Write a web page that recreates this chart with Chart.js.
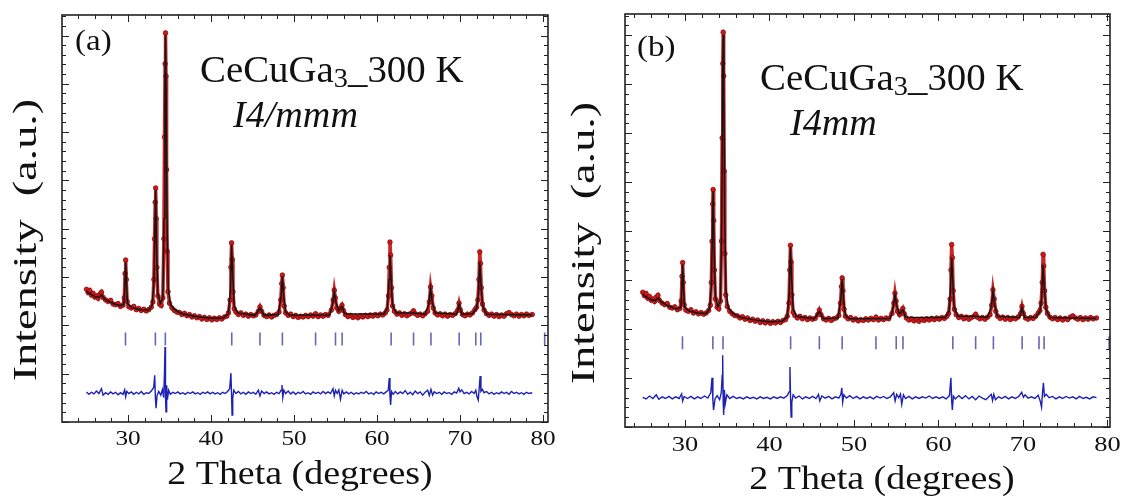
<!DOCTYPE html>
<html lang="en">

<head>
    <meta charset="UTF-8">
    <title>CeCuGa3 Rietveld refinement</title>
    <script src="https://cdn.jsdelivr.net/npm/chart.js"></script>
    <style>
        body { margin: 0; background: #fff; }
        #wrap { position: relative; width: 1123px; height: 502px; }
        canvas { position: absolute; top: 0; }
    </style>
</head>

<body>
    <div id="wrap">
        <canvas id="chartA" width="560" height="502" style="left:0"></canvas>
        <canvas id="chartB" width="563" height="502" style="left:560px"></canvas>
    </div>

    <script>
        // observed pattern, [2theta, intensity] (arbitrary units, 0-100 of plot height)
        const observed = [
            [25.0,32.6],[25.2,31.8],[25.4,32.3],[25.6,31.2],[25.8,31.6],[26.0,30.7],[26.2,31.0],[26.4,30.4],[26.6,31.4],[26.8,31.9],
            [27.0,30.6],[27.3,30.0],[27.6,29.6],[27.9,29.9],[28.2,29.0],[28.5,28.8],[28.8,29.1],[29.1,28.4],[29.4,28.7],
            [29.55,30.5],[29.65,36.5],[29.72,39.8],[29.8,35.0],[29.9,29.6],
            [30.1,28.3],[30.4,28.0],[30.7,28.4],[31.0,27.6],[31.3,27.9],[31.6,27.4],[31.9,27.7],[32.2,27.3],[32.5,27.6],[32.8,28.2],
            [33.0,29.5],[33.12,35],[33.2,45],[33.28,54],[33.33,57.5],[33.4,50],[33.48,38],[33.6,31],[33.8,29.0],[34.0,28.6],
            [34.2,30.5],[34.32,45],[34.4,70],[34.47,88],[34.52,95.6],[34.58,85],[34.65,62],[34.72,42],[34.82,32],[35.0,29.2],
            [35.3,28.0],[35.6,27.4],[35.9,27.0],[36.2,26.9],[36.5,26.4],[36.8,26.7],[37.1,26.1],[37.4,26.4],[37.7,25.8],[38.0,26.1],
            [38.3,25.6],[38.6,25.9],[38.9,25.3],[39.2,25.7],[39.5,25.2],[39.8,25.6],[40.1,25.1],[40.4,25.5],[40.7,25.2],[41.0,25.6],
            [41.3,25.3],[41.6,25.8],[41.9,26.0],[42.1,26.8],
            [42.3,30],[42.4,38],[42.48,44.0],[42.56,40],[42.65,32],[42.8,27.8],[43.0,27.0],
            [43.3,26.4],[43.6,26.8],[43.9,26.2],[44.2,26.5],[44.5,26.0],[44.8,26.4],[45.1,26.1],[45.4,26.3],[45.7,27.2],[45.9,28.3],
            [46.1,27.2],[46.4,26.2],[46.7,25.9],[47.0,26.3],[47.3,25.8],[47.6,26.2],[47.9,26.4],[48.2,27.0],
            [48.4,30],[48.52,34],[48.6,36.1],[48.7,33],[48.82,28.5],[49.0,26.8],
            [49.3,26.2],[49.6,26.5],[49.9,25.9],[50.2,26.2],[50.5,25.7],[50.8,26.0],[51.1,25.8],[51.4,26.2],[51.7,25.9],[52.0,26.3],
            [52.3,26.0],[52.6,26.6],[52.9,25.9],[53.2,26.3],[53.5,26.0],[53.8,26.4],[54.1,26.2],[54.5,27.5],
            [54.72,30],[54.85,32.4],[54.98,30.5],[55.15,28],[55.4,27.2],[55.6,28.0],[55.78,28.7],[55.95,27.4],[56.2,26.4],
            [56.5,25.9],[56.8,26.2],[57.1,25.7],[57.4,26.0],[57.7,25.6],[58.0,26.1],[58.3,25.8],[58.6,26.2],[58.9,25.9],[59.2,26.3],
            [59.5,26.0],[59.8,26.4],[60.1,26.1],[60.4,26.5],[60.7,26.3],[61.0,26.8],[61.2,27.5],
            [61.38,31],[61.48,38],[61.56,44.2],[61.64,41],[61.74,33],[61.88,28.5],[62.1,27.2],
            [62.4,26.5],[62.7,26.8],[63.0,26.2],[63.3,26.6],[63.6,26.1],[63.9,26.5],[64.2,26.8],[64.4,27.3],[64.6,26.6],[64.9,26.2],
            [65.2,26.5],[65.5,26.1],[65.8,26.6],[66.1,27.2],
            [66.3,29.5],[66.45,33.2],[66.6,31],[66.78,28],[67.0,26.8],
            [67.3,26.3],[67.6,26.6],[67.9,26.1],[68.2,26.5],[68.5,26.0],[68.8,26.4],[69.1,26.2],[69.4,26.6],[69.7,27.4],[69.88,29.2],
            [70.05,27.5],[70.3,26.4],[70.6,26.1],[70.9,26.5],[71.2,26.3],[71.5,26.8],[71.8,27.6],[72.0,28.2],[72.15,30],
            [72.28,35],[72.38,41.8],[72.46,39],[72.56,33],[72.7,29],[72.9,27.5],[73.2,26.6],
            [73.5,26.2],[73.8,26.5],[74.1,26.0],[74.4,26.4],[74.7,25.9],[75.0,26.3],[75.3,26.0],[75.6,26.6],[75.9,26.9],[76.2,26.4],
            [76.5,26.1],[76.8,26.5],[77.1,26.0],[77.4,26.4],[77.7,26.1],[78.0,26.5],[78.3,26.2],[78.7,26.4]
        ];

        // calculated profile (black line)
        const calculated = [
            [25.0,32.0],[25.5,31.4],[26.0,30.8],[26.5,30.6],[26.8,31.2],[27.2,30.2],[28.0,29.3],[29.0,28.6],[29.5,28.9],
            [29.62,33],[29.72,39.3],[29.82,34],[29.95,29],[30.5,28.1],[31.5,27.6],[32.5,27.5],[32.9,28.6],
            [33.12,34],[33.22,45],[33.33,57],[33.45,42],[33.6,31.5],[33.9,29.2],
            [34.2,30.5],[34.35,50],[34.45,82],[34.52,95],[34.6,80],[34.7,50],[34.85,33],[35.1,29],[35.6,27.6],[36.5,26.6],
            [38.0,26.0],[40.0,25.5],[41.5,25.6],[42.1,26.6],[42.35,33],[42.48,43.5],[42.6,37],[42.8,28.5],[43.2,26.8],
            [45.3,26.2],[45.9,28.0],[46.4,26.2],[48.1,26.4],[48.45,31],[48.6,35.8],[48.75,31],[49.0,27],[49.5,26.2],
            [54.3,26.3],[54.65,29],[54.85,32.0],[55.05,29.5],[55.35,27.3],[55.78,28.4],[56.1,26.6],
            [60.8,26.5],[61.25,28],[61.45,35],[61.56,41.0],[61.68,36],[61.85,29],[62.3,26.8],[64.4,26.8],
            [65.8,26.5],[66.25,29],[66.45,32.9],[66.65,29.5],[67.0,26.8],[69.6,26.5],[69.88,28.9],[70.2,26.5],
            [71.5,26.6],[72.0,28],[72.2,31],[72.38,39.3],[72.52,34],[72.72,28.5],[73.2,26.5],[78.7,26.3]
        ];

        // difference curves (obs - calc, offset)
        const diffA = [
            [25.0,7.4],[25.3,6.8],[25.6,7.3],[25.9,6.9],[26.2,7.6],[26.5,7.0],[26.8,8.2],[27.0,6.6],[27.3,7.2],[27.6,6.8],
            [27.9,7.4],[28.2,6.9],[28.5,7.3],[28.8,6.7],[29.1,7.2],[29.4,6.8],[29.6,7.9],[29.72,6.2],[29.85,7.5],[30.1,7.0],
            [30.4,7.4],[30.7,6.8],[31.0,7.3],[31.3,6.9],[31.6,7.5],[31.9,6.8],[32.2,7.2],[32.5,7.0],[32.8,7.6],[33.1,8.5],
            [33.22,11.5],[33.3,6.0],[33.38,3.4],[33.5,6.5],[33.7,7.5],[33.95,6.6],[34.15,8.0],[34.3,6.0],[34.4,12.5],[34.46,18.4],
            [34.52,6.0],[34.58,2.5],[34.66,9.0],[34.75,5.5],[34.9,7.8],[35.1,6.8],[35.4,7.3],[35.7,7.0],[36.0,7.4],[36.3,6.9],
            [36.6,7.2],[36.9,6.8],[37.2,7.3],[37.5,7.0],[37.8,7.4],[38.1,6.9],[38.4,7.2],[38.7,6.8],[39.0,7.3],[39.3,7.0],
            [39.6,7.4],[39.9,6.9],[40.2,7.3],[40.5,6.9],[40.8,7.2],[41.1,6.8],[41.4,7.3],[41.7,7.0],[42.0,7.5],[42.25,8.2],
            [42.4,12.0],[42.48,6.5],[42.54,1.7],[42.62,6.0],[42.75,7.8],[43.0,7.0],[43.3,7.5],[43.6,6.9],[43.9,7.3],[44.2,6.8],
            [44.5,7.4],[44.8,7.0],[45.1,7.3],[45.4,6.8],[45.7,7.8],[45.9,6.4],[46.1,7.6],[46.4,7.0],[46.7,7.4],[47.0,6.9],
            [47.3,7.2],[47.6,6.8],[47.9,7.3],[48.2,7.0],[48.45,7.8],[48.55,9.1],[48.65,6.0],[48.78,7.8],[49.0,7.0],[49.3,7.6],
            [49.6,6.9],[49.9,7.4],[50.2,6.8],[50.5,7.3],[50.8,7.0],[51.1,7.5],[51.4,6.9],[51.7,7.2],[52.0,6.8],[52.3,7.4],
            [52.6,7.0],[52.9,7.3],[53.2,6.9],[53.5,7.5],[53.8,7.0],[54.1,7.4],[54.4,7.0],[54.7,8.2],[54.85,6.4],[55.0,7.8],
            [55.2,7.0],[55.4,7.9],[55.6,5.6],[55.8,7.8],[56.0,6.9],[56.3,7.4],[56.6,6.9],[56.9,7.3],[57.2,6.8],[57.5,7.2],
            [57.8,6.9],[58.1,7.3],[58.4,7.0],[58.7,7.5],[59.0,6.9],[59.3,7.2],[59.6,6.8],[59.9,7.4],[60.2,7.0],[60.5,7.3],
            [60.8,6.9],[61.1,7.4],[61.35,7.8],[61.48,10.8],[61.56,6.5],[61.64,4.2],[61.75,7.5],[61.95,6.8],[62.2,7.5],[62.5,6.9],
            [62.8,7.4],[63.1,7.0],[63.4,7.7],[63.7,6.8],[64.0,7.3],[64.3,6.7],[64.6,7.6],[64.9,7.0],[65.2,7.4],[65.5,6.6],
            [65.8,7.3],[66.1,7.8],[66.3,6.5],[66.5,8.0],[66.7,6.6],[66.9,7.4],[67.2,7.0],[67.5,7.3],[67.8,6.8],[68.1,7.4],
            [68.4,7.0],[68.7,7.2],[69.0,6.8],[69.3,7.4],[69.6,7.1],[69.85,8.3],[70.0,7.4],[70.2,7.9],[70.5,7.0],[70.8,7.3],
            [71.1,6.9],[71.4,7.5],[71.7,7.0],[71.9,7.8],[72.05,6.2],[72.2,5.4],[72.3,8.0],[72.42,11.3],[72.52,7.5],[72.7,8.0],
            [72.9,7.2],[73.2,7.5],[73.5,6.9],[73.8,7.3],[74.1,6.8],[74.4,7.2],[74.7,6.9],[75.0,7.4],[75.3,7.0],[75.6,7.3],
            [75.9,6.8],[76.2,7.5],[76.5,7.0],[76.8,7.3],[77.1,6.9],[77.4,7.2],[77.7,6.8],[78.0,7.3],[78.3,7.0],[78.7,7.2]
        ];

        const diffB = [
            [25.0,7.2],[25.4,6.8],[25.8,7.5],[26.2,6.9],[26.6,7.8],[26.9,6.7],[27.3,7.3],[27.7,6.9],[28.1,7.4],[28.5,6.8],
            [28.9,7.3],[29.3,6.9],[29.6,8.0],[29.72,6.3],[29.9,7.4],[30.3,6.9],[30.7,7.4],[31.1,6.8],[31.5,7.3],[31.9,6.9],
            [32.3,7.5],[32.7,7.0],[33.05,8.3],[33.2,11.9],[33.3,6.5],[33.38,4.1],[33.55,6.8],[33.8,7.6],[34.1,6.6],[34.3,8.4],
            [34.4,12.5],[34.46,17.4],[34.52,6.0],[34.58,2.9],[34.66,9.0],[34.76,5.6],[34.95,7.8],[35.3,6.9],[35.7,7.4],[36.1,6.9],
            [36.5,7.2],[36.9,6.8],[37.3,7.3],[37.7,6.9],[38.1,7.2],[38.5,6.8],[38.9,7.3],[39.3,6.9],[39.7,7.2],[40.1,6.8],
            [40.5,7.3],[40.9,6.9],[41.3,7.3],[41.7,7.0],[42.1,7.6],[42.32,8.5],[42.42,14.5],[42.5,6.5],[42.56,2.4],[42.64,6.0],
            [42.8,7.8],[43.1,7.0],[43.5,7.5],[43.9,6.8],[44.3,7.3],[44.7,6.9],[45.1,7.4],[45.5,6.9],[45.8,7.9],[45.95,6.3],
            [46.2,7.5],[46.6,7.0],[47.0,7.4],[47.4,6.8],[47.8,7.3],[48.2,7.0],[48.45,7.9],[48.56,9.5],[48.66,6.0],[48.8,7.8],
            [49.1,7.0],[49.5,7.6],[49.9,6.9],[50.3,7.4],[50.7,6.8],[51.1,7.3],[51.5,6.9],[51.9,7.3],[52.3,6.8],[52.7,7.4],
            [53.1,7.0],[53.5,7.4],[53.9,6.9],[54.3,7.3],[54.7,8.3],[54.87,6.3],[55.05,7.9],[55.3,7.1],[55.5,8.0],[55.65,5.5],
            [55.85,7.8],[56.1,6.9],[56.5,7.4],[56.9,6.8],[57.3,7.3],[57.7,6.9],[58.1,7.3],[58.5,7.0],[58.9,7.5],[59.3,6.9],
            [59.7,7.3],[60.1,6.9],[60.5,7.3],[60.9,6.8],[61.3,7.6],[61.47,11.9],[61.56,6.4],[61.64,4.1],[61.76,7.5],[62.0,6.8],
            [62.4,7.6],[62.8,6.9],[63.2,7.6],[63.6,6.8],[64.0,7.4],[64.4,6.6],[64.8,7.5],[65.2,7.0],[65.6,6.6],[66.0,7.4],
            [66.25,7.9],[66.4,6.4],[66.55,7.9],[66.75,6.6],[67.1,7.3],[67.5,6.9],[67.9,7.4],[68.3,6.8],[68.7,7.3],[69.1,6.9],
            [69.5,7.4],[69.85,8.4],[70.05,7.2],[70.25,7.8],[70.6,7.0],[71.0,7.3],[71.4,6.9],[71.8,7.7],[72.05,6.2],[72.2,4.8],
            [72.3,8.0],[72.42,10.7],[72.54,7.4],[72.75,7.9],[73.1,7.1],[73.5,7.4],[73.9,6.8],[74.3,7.3],[74.7,6.9],[75.1,7.4],
            [75.5,7.0],[75.9,7.3],[76.3,6.8],[76.7,7.4],[77.1,6.9],[77.5,7.2],[77.9,6.8],[78.3,7.3],[78.7,7.1]
        ];

        // Bragg reflection positions (2theta)
        const braggPeaks = [29.7, 33.3, 34.5, 42.5, 45.9, 48.6, 52.6, 55.0, 55.8, 61.7, 64.4, 66.5, 69.9, 71.9, 72.5, 80.2];
        const braggLevel = 20.4;

        const xTickLabels = [30, 40, 50, 60, 70, 80];

        const toXY = arr => arr.map(p => ({ x: p[0], y: p[1] }));

        const serif = '"Liberation Serif", serif';

        // helper: draw text made of parts, stretched horizontally by sx
        function drawParts(ctx, parts, x, y, sx, align) {
            ctx.save();
            let w = 0;
            parts.forEach(p => { ctx.font = p.font; w += ctx.measureText(p.t).width; });
            ctx.translate(x, y);
            ctx.scale(sx, 1);
            let cx = align === 'center' ? -w / 2 : 0;
            ctx.textAlign = 'left';
            ctx.textBaseline = 'alphabetic';
            parts.forEach(p => {
                ctx.font = p.font;
                ctx.fillText(p.t, cx, p.dy || 0);
                cx += ctx.measureText(p.t).width;
            });
            ctx.restore();
        }

        const decoPlugin = {
            id: 'deco',
            afterDraw(chart, args, o) {
                const ctx = chart.ctx;
                const a = chart.chartArea;
                const xs = chart.scales.x, ys = chart.scales.y;
                ctx.save();
                ctx.fillStyle = '#111';
                ctx.strokeStyle = '#222';

                // frame
                ctx.lineWidth = 1.6;
                ctx.strokeRect(a.left, a.top, a.right - a.left, a.bottom - a.top);

                // inward ticks on all four sides
                ctx.lineWidth = 1;
                ctx.beginPath();
                for (let v = Math.ceil(xs.min / 2) * 2; v <= xs.max; v += 2) {
                    const px = Math.round(xs.getPixelForValue(v)) + 0.5;
                    const len = v % 10 === 0 ? 7 : 4;
                    ctx.moveTo(px, a.bottom); ctx.lineTo(px, a.bottom - len);
                    ctx.moveTo(px, a.top); ctx.lineTo(px, a.top + len);
                }
                for (let k = 0; k * o.yStep <= ys.max + 0.01; k++) {
                    const py = Math.round(ys.getPixelForValue(k * o.yStep)) + 0.5;
                    const len = k % 5 === 0 ? 7 : 4;
                    ctx.moveTo(a.left, py); ctx.lineTo(a.left + len, py);
                    ctx.moveTo(a.right, py); ctx.lineTo(a.right - len, py);
                }
                ctx.stroke();

                // x tick labels
                xTickLabels.forEach(v => {
                    drawParts(ctx, [{ t: String(v), font: o.tickFont + 'px ' + serif }],
                        xs.getPixelForValue(v), o.tickY, 1.2, 'center');
                });

                // axis titles
                drawParts(ctx, [{ t: '2 Theta (degrees)', font: '33px ' + serif }],
                    o.xTitle[0], o.xTitle[1], 1.15, 'center');

                ctx.save();
                ctx.translate(o.yTitle[0], o.yTitle[1]);
                ctx.rotate(-Math.PI / 2);
                ctx.scale(1.36, 1);
                ctx.font = '34px ' + serif;
                ctx.textAlign = 'center';
                ctx.textBaseline = 'middle';
                ctx.fillText('Intensity  (a.u.)', 0, 0);
                ctx.restore();

                // panel annotations
                drawParts(ctx, [{ t: o.panel, font: '30px ' + serif }], o.panelPos[0], o.panelPos[1], 1.1, 'left');
                drawParts(ctx, [
                    { t: 'CeCuGa', font: '37px ' + serif },
                    { t: '3', font: '27px ' + serif, dy: 5 },
                    { t: '_300 K', font: '37px ' + serif }
                ], o.formulaPos[0], o.formulaPos[1], 1.05, 'left');
                drawParts(ctx, [{ t: o.group, font: 'italic 37px ' + serif }], o.groupPos[0], o.groupPos[1], 1.03, 'left');
                ctx.restore();
            }
        };

        function makeChart(id, diff, xmin, xmax, pad, deco) {
            return new Chart(document.getElementById(id), {
                type: 'line',
                data: {
                    datasets: [
                        {
                            label: 'Calculated',
                            data: toXY(calculated),
                            borderColor: '#141414',
                            borderWidth: 1.5,
                            pointRadius: 0
                        },
                        {
                            label: 'Observed',
                            data: toXY(observed),
                            borderColor: 'rgba(196,20,20,0.92)',
                            borderWidth: 3.5,
                            pointRadius: 2.3,
                            pointBorderWidth: 0.8,
                            pointBorderColor: '#8c0a0a',
                            pointBackgroundColor: '#cc1a1a'
                        },
                        {
                            label: 'Difference',
                            data: toXY(diff),
                            borderColor: '#1e22b2',
                            borderWidth: 1.4,
                            pointRadius: 0
                        },
                        {
                            label: 'Bragg',
                            type: 'scatter',
                            data: braggPeaks.map(v => ({ x: v, y: braggLevel })),
                            showLine: false,
                            pointStyle: 'line',
                            rotation: 90,
                            pointRadius: 6.5,
                            borderWidth: 1.6,
                            borderColor: '#6668b4'
                        }
                    ]
                },
                options: {
                    responsive: false,
                    animation: false,
                    events: [],
                    layout: { padding: pad },
                    elements: { line: { tension: 0 } },
                    scales: {
                        x: { type: 'linear', min: xmin, max: xmax, display: false },
                        y: { min: 0, max: 100, display: false }
                    },
                    plugins: {
                        legend: { display: false },
                        tooltip: { enabled: false },
                        deco: deco
                    }
                },
                plugins: [decoPlugin]
            });
        }

        function build() {
            makeChart('chartA', diffA, 22.05, 80.6,
                { left: 62, top: 15, right: 12, bottom: 80 },
                {
                    yStep: 2.374, tickY: 445, tickFont: 21,
                    xTitle: [300, 484], yTitle: [27, 240],
                    panel: '(a)', panelPos: [75, 50], formulaPos: [200, 82],
                    group: 'I4/mmm', groupPos: [233, 127]
                });

            makeChart('chartB', diffB, 22.9, 80.3,
                { left: 65, top: 14, right: 13, bottom: 75 },
                {
                    yStep: 2.372, tickY: 451, tickFont: 22,
                    xTitle: [322, 489], yTitle: [25, 243],
                    panel: '(b)', panelPos: [77, 56], formulaPos: [200, 90],
                    group: 'I4mm', groupPos: [230, 135]
                });
        }

        document.fonts.load('20px "Liberation Serif"').then(build, build);
    </script>
</body>

</html>
